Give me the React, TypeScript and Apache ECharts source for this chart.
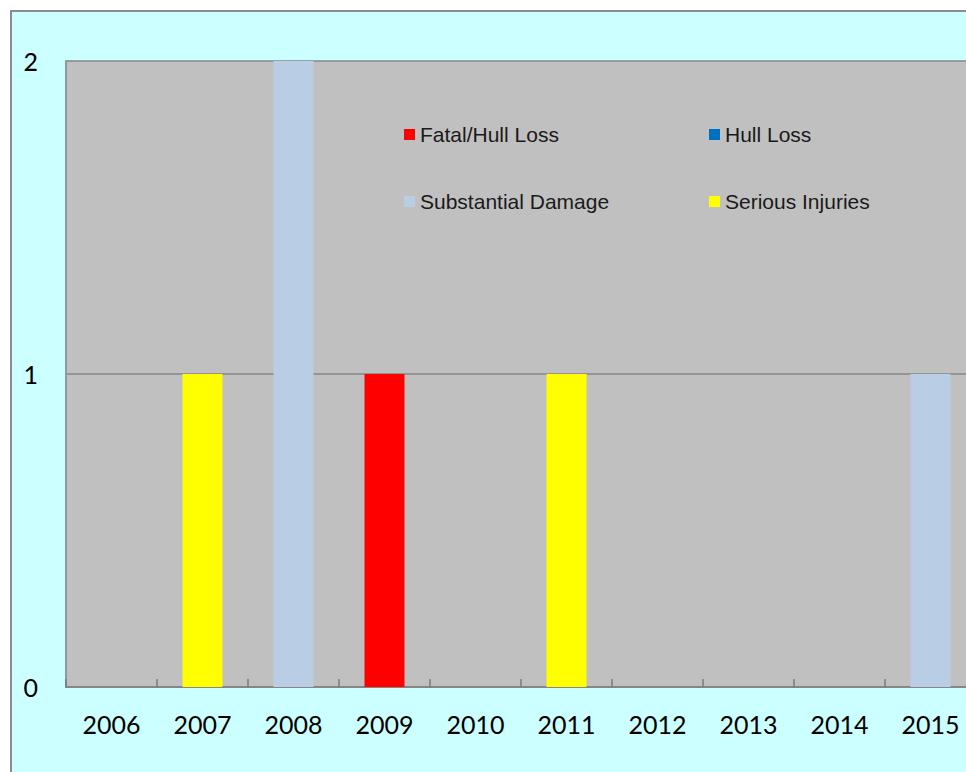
import React, { useEffect, useRef } from "react";
import * as echarts from "echarts";

const years = ["2006", "2007", "2008", "2009", "2010", "2011", "2012", "2013", "2014", "2015"];
const fatalHullLoss = [0, 0, 0, 1, 0, 0, 0, 0, 0, 0];
const hullLoss = [0, 0, 0, 0, 0, 0, 0, 0, 0, 0];
const substantialDamage = [0, 0, 2, 0, 0, 0, 0, 0, 0, 1];
const seriousInjuries = [0, 1, 0, 0, 0, 1, 0, 0, 0, 0];

export default function App() {
  const ref = useRef<HTMLDivElement>(null);
  useEffect(() => {
    if (!ref.current) return;
    const chart = echarts.init(ref.current, undefined, { renderer: "svg" });
    const legendText = { fontFamily: "Liberation Sans", fontSize: 21, color: "#1a1a1a" };
    chart.setOption({
      animation: false,
      backgroundColor: "#ccffff",
      grid: {
        left: 54,
        top: 49,
        width: 910,
        height: 626,
        show: true,
        backgroundColor: "#c0c0c0",
        borderWidth: 0,
      },
      legend: [
        {
          orient: "vertical",
          left: 387,
          top: 107,
          itemGap: 46,
          itemWidth: 11,
          itemHeight: 11,
          icon: "rect",
          textStyle: legendText,
          data: ["Fatal/Hull Loss", "Substantial Damage"],
        },
        {
          orient: "vertical",
          left: 692,
          top: 107,
          itemGap: 46,
          itemWidth: 11,
          itemHeight: 11,
          icon: "rect",
          textStyle: legendText,
          data: ["Hull Loss", "Serious Injuries"],
        },
      ],
      xAxis: {
        type: "category",
        data: years,
        axisLine: { lineStyle: { color: "#868686", width: 2 } },
        axisTick: { show: true, inside: true, length: 8, lineStyle: { color: "#7a7a7a", width: 1.5 } },
        axisLabel: { fontFamily: "Lato", fontSize: 25, color: "#000", margin: 24 },
      },
      yAxis: {
        type: "value",
        min: 0,
        max: 2,
        interval: 1,
        axisLine: { show: true, lineStyle: { color: "#8e9a9a", width: 2 } },
        axisTick: { show: false },
        axisLabel: { fontFamily: "Lato", fontSize: 25, color: "#000", margin: 28 },
        splitLine: { lineStyle: { color: "#868686", width: 1.5 } },
      },
      series: [
        { name: "Fatal/Hull Loss", type: "bar", stack: "total", barWidth: 40, itemStyle: { color: "#ff0000" }, data: fatalHullLoss },
        { name: "Hull Loss", type: "bar", stack: "total", barWidth: 40, itemStyle: { color: "#0070c0" }, data: hullLoss },
        { name: "Substantial Damage", type: "bar", stack: "total", barWidth: 40, itemStyle: { color: "#b9cde5" }, data: substantialDamage },
        { name: "Serious Injuries", type: "bar", stack: "total", barWidth: 40, itemStyle: { color: "#ffff00" }, data: seriousInjuries },
      ],
    });
    return () => chart.dispose();
  }, []);
  return (
    <div style={{ position: "fixed", left: 0, top: 0, width: 966, height: 772, overflow: "hidden", background: "#fff" }}>
      <div
        style={{
          position: "absolute",
          left: 10,
          top: 10,
          width: 1004,
          height: 804,
          border: "2px solid #8c8c8c",
          background: "#ccffff",
        }}
      >
        <div ref={ref} style={{ width: 1000, height: 800 }} />
      </div>
    </div>
  );
}
